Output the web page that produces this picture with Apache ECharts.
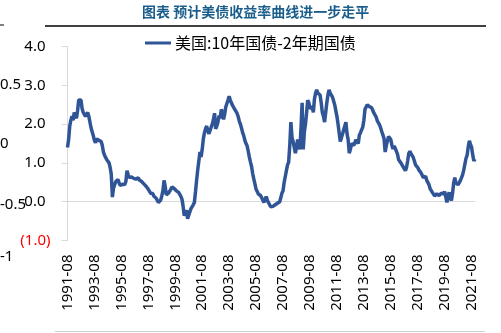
<!DOCTYPE html>
<html>
<head>
<meta charset="utf-8">
<script src="https://cdn.jsdelivr.net/npm/echarts@6/dist/echarts.min.js"></script>
<style>
html,body{margin:0;padding:0;background:#fff;}
#c{width:501px;height:333px;}
</style>
</head>
<body>
<div id="c"></div>
<script>
var titleText = '图表 预计美债收益率曲线进一步走平';
var seriesName = '美国:10年国债-2年期国债';
var startYear = 1991, startMonth = 8;
var yTicks = [-1, 0, 1, 2, 3, 4];
var ghostLabels = ['0.5', '0', '-0.5', '-1'];

// monthly spread values, 1991-08 .. 2021-11
var spread = [
  1.40,1.60,1.95,2.10,2.20,2.10,2.30,2.25,2.15,2.35,2.62,2.60,
  2.62,2.40,2.30,2.35,2.20,2.22,2.30,2.20,2.25,1.90,1.85,1.70,
  1.58,1.52,1.62,1.66,1.58,1.62,1.55,1.45,1.28,1.20,1.15,1.08,
  1.05,1.00,0.88,0.70,0.12,0.35,0.40,0.52,0.50,0.57,0.48,0.42,
  0.38,0.45,0.40,0.44,0.52,0.80,0.70,0.62,0.60,0.64,0.62,0.60,
  0.63,0.58,0.61,0.62,0.56,0.55,0.52,0.50,0.46,0.45,0.40,0.38,
  0.32,0.27,0.22,0.19,0.21,0.14,0.12,0.09,0.05,-0.02,-0.05,0.04,
  0.15,0.28,0.55,0.40,0.18,0.15,0.22,0.27,0.32,0.38,0.40,0.34,
  0.32,0.28,0.30,0.24,0.22,0.14,0.06,-0.12,-0.36,-0.28,-0.22,-0.44,
  -0.35,-0.26,-0.18,-0.15,-0.08,-0.02,0.25,0.55,0.82,1.05,1.28,1.15,
  1.35,1.62,1.78,1.88,1.95,1.82,1.75,1.70,1.92,2.00,2.12,2.28,
  1.88,1.95,2.05,2.22,2.15,2.38,2.28,2.12,2.25,2.44,2.48,2.62,
  2.72,2.62,2.55,2.48,2.46,2.38,2.36,2.28,2.20,2.08,2.00,1.90,
  1.78,1.70,1.58,1.50,1.44,1.30,1.15,1.02,0.90,0.72,0.58,0.45,
  0.32,0.26,0.20,0.15,0.16,0.10,0.05,-0.02,-0.06,0.13,0.04,-0.02,
  -0.05,-0.13,-0.15,-0.12,-0.14,-0.08,-0.10,-0.04,-0.05,0.00,0.10,0.22,
  0.28,0.50,0.65,0.80,0.95,1.02,1.45,2.05,1.65,1.55,1.40,1.25,
  1.40,1.60,1.45,1.35,1.90,2.55,1.35,1.80,2.00,2.30,2.62,2.55,
  2.40,2.35,2.45,2.30,2.65,2.80,2.88,2.80,2.82,2.75,2.55,2.30,
  2.20,2.05,2.30,2.55,2.75,2.88,2.80,2.75,2.70,2.60,2.50,2.45,
  2.20,2.00,1.95,1.55,1.65,1.70,1.85,1.95,2.05,1.75,1.60,1.25,
  1.35,1.50,1.55,1.45,1.48,1.60,1.58,1.50,1.72,1.78,1.80,1.92,
  2.10,2.38,2.42,2.50,2.52,2.45,2.40,2.42,2.35,2.28,2.30,2.18,
  2.08,2.05,1.98,1.90,1.80,1.72,1.62,1.28,1.45,1.50,1.68,1.72,
  1.60,1.45,1.36,1.44,1.45,1.30,1.22,1.08,1.05,1.00,0.97,0.90,
  0.85,0.80,0.88,1.05,1.24,1.30,1.24,1.20,1.14,1.05,0.95,0.90,
  0.88,0.82,0.80,0.74,0.70,0.62,0.58,0.66,0.55,0.50,0.44,0.34,
  0.30,0.24,0.22,0.15,0.19,0.20,0.17,0.16,0.21,0.22,0.17,0.20,
  0.26,0.12,-0.02,0.16,0.24,0.10,0.03,0.22,0.48,0.62,0.48,0.48,
  0.44,0.40,0.55,0.62,0.70,0.82,0.86,1.12,1.20,1.42,1.57,1.48,
  1.40,1.20,1.05,1.10
];

var months = [];
(function(){
  var y = startYear, m = startMonth;
  for (var i = 0; i < spread.length; i++) {
    months.push(y + '-' + (m < 10 ? '0' + m : '' + m));
    m++; if (m > 12) { m = 1; y++; }
  }
})();

var chart = echarts.init(document.getElementById('c'), null, {renderer: 'canvas'});
var font = '"Noto Sans", "Noto Sans CJK SC", sans-serif';
var cjk = '"Noto Sans CJK SC", "Noto Sans", sans-serif';

var ghostY = [86.7, 145, 206.7, 258];
var graphics = [
  {type: 'line', shape: {x1: 45, y1: 26, x2: 486, y2: 26}, style: {stroke: '#000', lineWidth: 1.6}},
  {type: 'line', shape: {x1: 0, y1: 25, x2: 4, y2: 25}, style: {stroke: '#000', lineWidth: 1}},
  {type: 'line', shape: {x1: 55, y1: 331.5, x2: 485, y2: 331.5}, style: {stroke: '#d0d0d0', lineWidth: 1}}
];
ghostLabels.forEach(function(t, i){
  graphics.push({type: 'text', left: 0, top: ghostY[i] - 9,
    style: {text: t, fill: '#000', font: '15px ' + font}});
});

chart.setOption({
  animation: false,
  backgroundColor: '#fff',
  title: {
    text: titleText, left: 142, top: 5, padding: 0,
    textStyle: {fontFamily: cjk, fontSize: 14, fontWeight: 'bold', color: '#1B5E8C'}
  },
  legend: {
    data: [seriesName], left: 145, top: 35, padding: 0,
    icon: 'rect', itemWidth: 26, itemHeight: 3, itemGap: 4,
    textStyle: {fontFamily: cjk, fontSize: 16, color: '#000', padding: [0,0,0,-1]}
  },
  grid: {left: 67.5, right: 26, top: 46.5, bottom: 92.5, containLabel: false},
  xAxis: {
    type: 'category', data: months, boundaryGap: false,
    axisLine: {show: false}, axisTick: {show: false},
    axisLabel: {rotate: 90, interval: 23, margin: 14, fontSize: 15, fontFamily: font, color: '#000'},
    splitLine: {show: false}
  },
  yAxis: {
    type: 'value', min: yTicks[0], max: yTicks[yTicks.length - 1], interval: 1,
    axisLine: {show: true, lineStyle: {color: '#d9d9d9', width: 1}},
    axisTick: {show: true, length: 6, lineStyle: {color: '#d9d9d9'}},
    axisLabel: {
      margin: 17, fontSize: 15, fontFamily: font, color: '#000',
      formatter: function(v){
        return v < 0 ? '{neg|(' + Math.abs(v).toFixed(1) + ')}' : '{pos|' + v.toFixed(1) + '}';
      },
      rich: {
        neg: {color: '#ff0000', fontSize: 15, fontFamily: font},
        pos: {color: '#000', fontSize: 15, fontFamily: font, padding: [0, 5, 0, 0]}
      }
    },
    splitLine: {show: true, lineStyle: {color: ['rgba(0,0,0,0)', '#d9d9d9', 'rgba(0,0,0,0)', 'rgba(0,0,0,0)', 'rgba(0,0,0,0)', 'rgba(0,0,0,0)'], width: 1}}
  },
  series: [{
    name: seriesName, type: 'line', data: spread,
    showSymbol: false, symbol: 'none',
    lineStyle: {color: '#2F5597', width: 3.5},
    itemStyle: {color: '#2F5597'}
  }],
  graphic: graphics
});
</script>
</body>
</html>
